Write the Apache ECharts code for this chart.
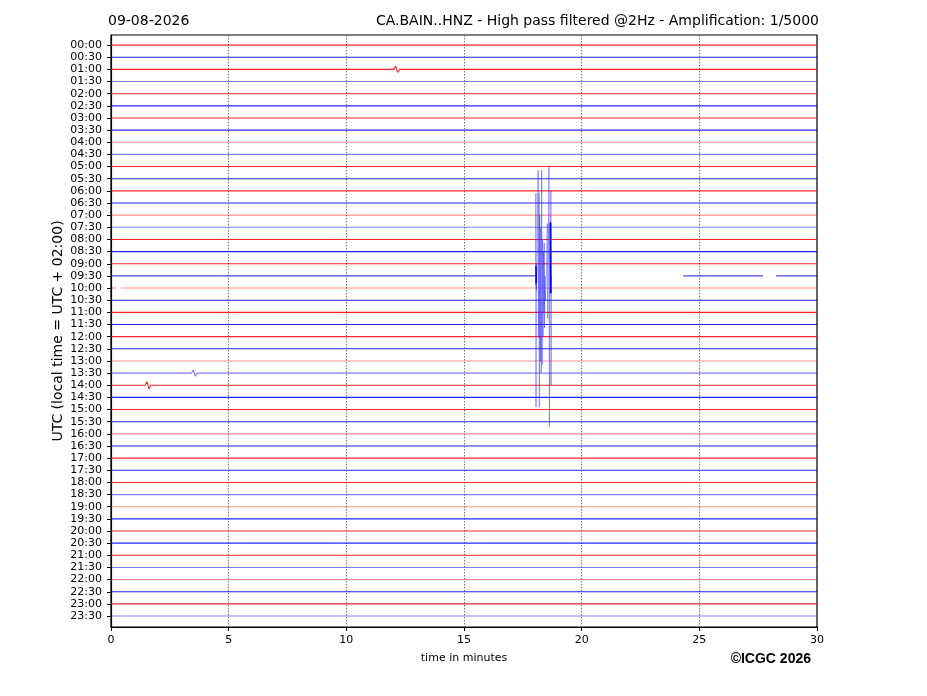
<!DOCTYPE html>
<html><head><meta charset="utf-8">
<script src="https://cdn.jsdelivr.net/npm/echarts@6/dist/echarts.min.js"></script>
<style>html,body{margin:0;padding:0;background:#fff}#c{width:927px;height:696px}</style>
</head><body><div id="c"></div>
<script>
// ---- data ----
const tickLabels = ["00:00","00:30","01:00","01:30","02:00","02:30","03:00","03:30","04:00","04:30","05:00","05:30",
"06:00","06:30","07:00","07:30","08:00","08:30","09:00","09:30","10:00","10:30","11:00","11:30",
"12:00","12:30","13:00","13:30","14:00","14:30","15:00","15:30","16:00","16:30","17:00","17:30",
"18:00","18:30","19:00","19:30","20:00","20:30","21:00","21:30","22:00","22:30","23:00","23:30"];
// rows drawn lighter in the reference
const lightRows = [3,8,9,14,15,20,26,27,32,37,38,43,44,47];
// small visible blips: [row, minute, amplitude (row units, up positive)]
const blips = [[28,1.53,0.3],[27,3.5,0.25],[2,12.1,0.25]];
// event in the 09:30 trace (minutes, amplitude in row units)
const eventMinutes = [18.04,18.05,18.055,18.06,18.07,18.08,18.10,18.15,18.17,18.19,18.20,18.22,18.24,18.26,18.28,18.30,18.32,18.34,18.36,18.38,18.40,18.41,18.42,18.44,18.46,18.50,18.54,18.56,18.58,18.61,18.63,18.65,18.66,18.67,18.68,18.69,18.70,18.71];
const eventAmps    = [0,-0.8,6.8,-10.8,1.0,-1.2,0.2,8.7,-5.0,6.8,-10.8,5.0,-7.0,4.0,-8.0,8.7,-7.3,3.0,-5.0,2.0,-3.0,2.7,-4.3,0,-2.0,0.1,4.3,-3.5,0.5,9.0,-12.4,4.4,-1.4,4.4,-1.5,7.0,-9.0,0];
// continuous data segments (minutes) in the 09:30 and 10:00 traces
const row19Segments = [[0,18.04],[18.71,18.72],[24.31,27.71],[28.26,30]];
const row20Segments = [[0,0.21],[0.42,30]];
// small dark excursions of the 09:30 trace near its baseline during the event
const row19Dark = [[18.06,0.8],[18.07,-0.6],[18.68,4.4],[18.69,-1.4]];

// ---- build series ----
const EVENT_ROW = 19;
const series = [];
function segData(segs, i) {
  const d = [];
  segs.forEach(s => { d.push([s[0], i]); d.push([s[1], i]); d.push([s[1] + 0.01, '-']); });
  return d;
}
for (let i = 0; i < tickLabels.length; i++) {
  let data = [];
  if (i === EVENT_ROW) {
    data = segData(row19Segments, i);
  } else if (i === 20) {
    data = segData(row20Segments, i);
  } else {
    const bl = blips.filter(b => b[0] === i).sort((a, b) => a[1] - b[1]);
    data.push([0, i]);
    bl.forEach(b => {
      data.push([b[1]-0.08, i]); data.push([b[1], i - b[2]]);
      data.push([b[1]+0.08, i + b[2]]); data.push([b[1]+0.16, i]);
    });
    data.push([30, i]);
  }
  const red = i % 2 === 0;
  const light = lightRows.indexOf(i) >= 0;
  const col = red ? (light ? 'rgba(255,0,0,0.45)' : 'rgba(255,0,0,0.85)') : (light ? 'rgba(0,0,255,0.5)' : 'rgba(0,0,255,0.85)');
  series.push({
    type: 'line', data: data, symbol: 'none', silent: true, animation: false,
    connectNulls: false, lineStyle: { color: i === EVENT_ROW ? 'rgba(0,0,255,0.7)' : col, width: 1.1 }, z: 2
  });
}
// event waveform (thin, like the reference)
series.push({
  type: 'line', symbol: 'none', silent: true, animation: false, z: 5,
  data: eventMinutes.map((m, k) => [m, EVENT_ROW - eventAmps[k]]),
  lineStyle: { color: 'rgba(40,40,255,0.6)', width: 0.7 }
});
series.push({
  type: 'line', symbol: 'none', silent: true, animation: false, z: 6,
  data: [[row19Dark[0][0], EVENT_ROW - row19Dark[0][1]], [row19Dark[1][0], EVENT_ROW - row19Dark[1][1]], ['-','-'],
         [row19Dark[2][0], EVENT_ROW - row19Dark[2][1]], [row19Dark[3][0], EVENT_ROW - row19Dark[3][1]]],
  connectNulls: false,
  lineStyle: { color: 'rgba(0,0,230,1)', width: 1.6 }
});

const chart = echarts.init(document.getElementById('c'), null, { renderer: 'canvas' });
const F = 'DejaVu Sans';
chart.setOption({
  animation: false,
  backgroundColor: '#fff',
  textStyle: { fontFamily: F },
  title: [
    { text: '09-08-2026', left: 103, top: 9, textStyle: { fontFamily: F, fontSize: 14, fontWeight: 'normal', color: '#000' } },
    { text: 'CA.BAIN..HNZ - High pass filtered @2Hz - Amplification: 1/5000', right: 103, top: 9, textStyle: { fontFamily: F, fontSize: 14, fontWeight: 'normal', color: '#000' } }
  ],
  graphic: [
    { type: 'text', right: 116, top: 652, style: { text: '©ICGC 2026', fill: '#000', font: 'bold 14px "Liberation Sans", Arial, sans-serif' } }
  ],
  grid: { left: 111, right: 110, top: 35, bottom: 69, show: true, borderColor: '#000', borderWidth: 1.2, backgroundColor: 'transparent' },
  xAxis: {
    type: 'value', min: 0, max: 30, interval: 5,
    name: 'time in minutes', nameLocation: 'middle', nameGap: 26,
    nameTextStyle: { fontFamily: F, fontSize: 11, color: '#000' },
    axisLine: { show: true, onZero: false, lineStyle: { color: '#000', width: 1.2 } },
    axisTick: { show: true, inside: false, length: 4, lineStyle: { color: '#000' } },
    axisLabel: { fontFamily: F, fontSize: 11, color: '#000', margin: 8 },
    splitLine: { show: true, lineStyle: { color: '#555', type: [1.5, 1.5], width: 0.8 } }
  },
  yAxis: {
    type: 'value', min: -0.83, max: 47.9, inverse: true,
    name: 'UTC (local time = UTC + 02:00)', nameLocation: 'middle', nameGap: 46, nameMoveOverlap: false,
    nameTextStyle: { fontFamily: F, fontSize: 14, color: '#000' },
    axisLine: { show: true, onZero: false, lineStyle: { color: '#000', width: 1.2 } },
    axisTick: { show: true, length: 4, lineStyle: { color: '#000' }, customValues: tickLabels.map((_, i) => i) },
    axisLabel: { fontFamily: F, fontSize: 11, color: '#000', margin: 9, customValues: tickLabels.map((_, i) => i),
      formatter: v => tickLabels[Math.round(v)] || '' },
    splitLine: { show: false }
  },
  series: series
});
</script></body></html>
